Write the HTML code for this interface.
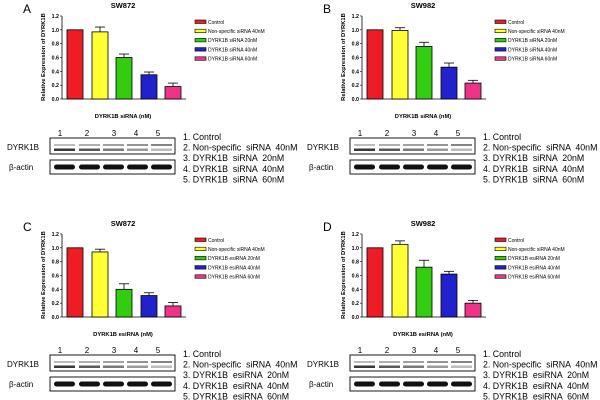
<!DOCTYPE html>
<html><head><style>body{margin:0;background:#fff}svg{display:block}text{font-family:"Liberation Sans",sans-serif}</style></head>
<body>
<svg id="s" width="600" height="400" xmlns="http://www.w3.org/2000/svg"></svg>
<script>
const S=document.getElementById('s');let h='';
const cols=['#ee1c25','#ffff33','#33cc11','#2222cc','#ee3388'];
function panel(ox,oy,letter,title,vals,errs,agent,xl,marker){
 const y0=oy+99,k=69.2;
 h+=`<text x="${ox+23}" y="${oy+13}" font-size="12">${letter}</text>`;
 h+=`<text x="${ox+123}" y="${oy+8}" font-size="7.5" font-weight="bold" text-anchor="middle">${title}</text>`;
 h+=`<line x1="${ox+62}" y1="${oy+16}" x2="${ox+62}" y2="${y0}" stroke="#000" stroke-width="0.8"/>`;
 h+=`<line x1="${ox+62}" y1="${y0}" x2="${ox+186}" y2="${y0}" stroke="#000" stroke-width="0.8"/>`;
 for(let i=0;i<=6;i++){const v=i*0.2,y=y0-v*k;
  h+=`<line x1="${ox+60}" y1="${y}" x2="${ox+62}" y2="${y}" stroke="#000" stroke-width="0.6"/>`;
  h+=`<text x="${ox+59}" y="${y+2}" font-size="5.3" font-weight="bold" text-anchor="end">${v.toFixed(1)}</text>`;}
 h+=`<text transform="translate(${ox+45},${oy+57}) rotate(-90)" font-size="5.8" font-weight="bold" text-anchor="middle">Relative Expression of DYRK1B</text>`;
 const bx=[67,92,116,141,165];
 vals.forEach((v,i)=>{const x=ox+bx[i],top=y0-v*k,et=top-errs[i]*k;
  if(errs[i]>0){h+=`<line x1="${x+8}" y1="${top}" x2="${x+8}" y2="${et}" stroke="#000" stroke-width="0.8"/><line x1="${x+3}" y1="${et}" x2="${x+13}" y2="${et}" stroke="#000" stroke-width="0.8"/>`;}
  h+=`<rect x="${x}" y="${top}" width="16" height="${y0-top}" fill="${cols[i]}" stroke="#000" stroke-width="0.8"/>`;});
 const leg=['Control','Non-specific siRNA 40nM',`DYRK1B ${agent} 20nM`,`DYRK1B ${agent} 40nM`,`DYRK1B ${agent} 60nM`];
 leg.forEach((t,i)=>{const y=oy+22+i*9.2;
  h+=`<rect x="${ox+195}" y="${y-2}" width="11" height="3.5" fill="${cols[i]}" stroke="#000" stroke-width="0.6"/>`;
  h+=`<text x="${ox+208}" y="${y+1.8}" font-size="5">${t}</text>`;});
 h+=`<text x="${ox+123}" y="${oy+118}" font-size="5.8" font-weight="bold" text-anchor="middle">DYRK1B ${agent} (nM)</text>`;
 const b=oy+(oy>0?-1:0);
 [60,87,114,136,158].forEach((x,i)=>h+=`<text x="${ox+x}" y="${b+136}" font-size="8" text-anchor="middle">${i+1}</text>`);
 h+=`<rect x="${ox+50}" y="${b+138}" width="125" height="16" fill="#fff" stroke="#000" stroke-width="0.9"/>`;
 h+=`<rect x="${ox+50}" y="${b+160}" width="125" height="14" fill="#fff" stroke="#000" stroke-width="0.9"/>`;
 [54,79,103,127,151].forEach((x,i)=>{
  h+=`<rect x="${ox+x}" y="${b+164.5}" width="21" height="5" rx="2.5" fill="#111"/>`;
  h+=`<rect x="${ox+x}" y="${b+148.5}" width="21" height="2.5" fill="#222" opacity="${0.9-i*0.15}"/>`;
  h+=`<rect x="${ox+x}" y="${b+144}" width="21" height="2" fill="#555" opacity="${0.4+i*0.08}"/>`;});
 if(marker){h+=`<rect x="${ox+50}" y="${b+145}" width="10" height="5" fill="#000"/>`;
  h+=`<text x="${ox+2}" y="${b+160}" font-size="5.5" text-decoration="underline">Marker 75kDa</text>`;}
 h+=`<text x="${ox+7}" y="${b+150}" font-size="8">DYRK1B</text>`;
 h+=`<text x="${ox+9}" y="${b+170}" font-size="8">β-actin</text>`;
 const lst=['1. Control','2. Non-specific  siRNA  40nM',`3. DYRK1B  ${agent}  20nM`,`4. DYRK1B  ${agent}  40nM`,`5. DYRK1B  ${agent}  60nM`];
 lst.forEach((t,i)=>h+=`<text x="${ox+183}" y="${b+140+i*10.6}" font-size="8.8" style="white-space:pre" xml:space="preserve">${t}</text>`);
}
panel(0,0,'A','SW872',[1,0.97,0.6,0.35,0.18],[0,0.07,0.05,0.04,0.05],'siRNA');
panel(300,0,'B','SW982',[1,0.99,0.76,0.46,0.23],[0,0.04,0.06,0.06,0.04],'siRNA');
panel(0,218,'C','SW872',[1,0.94,0.4,0.31,0.16],[0,0.04,0.08,0.04,0.05],'esiRNA',true);
panel(300,218,'D','SW982',[1,1.05,0.72,0.62,0.2],[0,0.05,0.1,0.04,0.04],'esiRNA');
S.innerHTML=h;
</script>
</body></html>
